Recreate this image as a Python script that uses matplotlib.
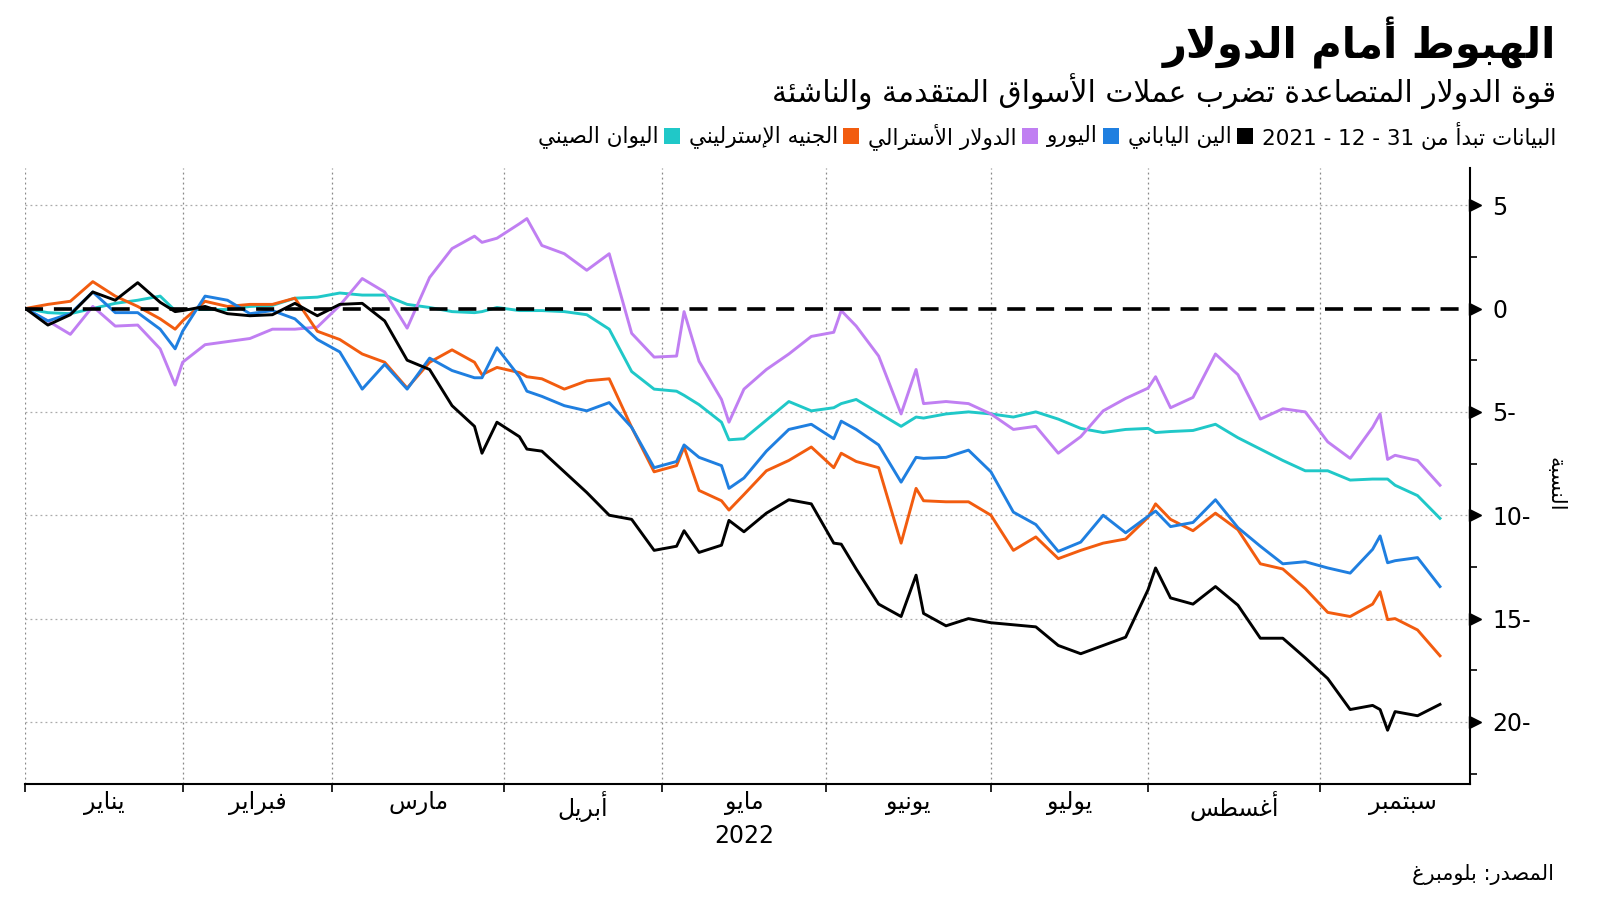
import re
import numpy as np
import pandas as pd
import matplotlib
matplotlib.use("Agg")
import matplotlib.pyplot as plt
import matplotlib.transforms as mtransforms
from matplotlib.patches import Rectangle

plt.rcParams["font.family"] = ["DejaVu Sans"]

# --- data: % change vs USD since 31-12-2021, x = business-day index ---
day_idx = [0, 3, 6, 9, 12, 15, 18, 20, 21, 24, 27, 30,
           33, 36, 39, 42, 45, 48, 51, 54, 57, 60, 61, 63,
           66, 67, 69, 72, 75, 78, 81, 84, 87, 88, 90, 93, 94, 96,
           99, 102, 105, 108, 109, 111, 114, 117, 119, 120, 123, 126, 129,
           132, 135, 138, 141, 144, 147, 150, 151, 153, 156, 159,
           162, 165, 168, 171, 174, 177, 180, 181, 182, 183, 186, 189]

yen = [0, -0.8, -0.3, 0.8, 0.4, 1.25, 0.3, -0.15, -0.1, 0.1, -0.25, -0.35,
       -0.3, 0.25, -0.35, 0.2, 0.25, -0.6, -2.5, -2.95, -4.7, -5.7, -7.0, -5.5,
       -6.2, -6.8, -6.9, -7.9, -8.9, -10.0, -10.2, -11.7, -11.5, -10.75, -11.8, -11.45, -10.25, -10.8,
       -9.9, -9.25, -9.45, -11.35, -11.4, -12.6, -14.3, -14.9, -12.9, -14.75, -15.35, -15.0, -15.2,
       -15.3, -15.4, -16.3, -16.7, -16.3, -15.9, -13.6, -12.55, -14.0, -14.3, -13.45,
       -14.35, -15.95, -15.95, -16.9, -17.9, -19.4, -19.2, -19.4, -20.4, -19.5, -19.7, -19.15]

gbp = [0, 0.2, 0.35, 1.3, 0.6, 0.1, -0.5, -1.0, -0.6, 0.35, 0.1, 0.2,
       0.2, 0.5, -1.1, -1.5, -2.2, -2.6, -3.85, -2.6, -2.0, -2.6, -3.2, -2.85,
       -3.1, -3.3, -3.4, -3.9, -3.5, -3.4, -5.75, -7.9, -7.6, -6.7, -8.8, -9.3, -9.75, -9.0,
       -7.85, -7.35, -6.7, -7.7, -7.0, -7.4, -7.7, -11.35, -8.7, -9.3, -9.35, -9.35, -10.0,
       -11.7, -11.05, -12.1, -11.7, -11.35, -11.15, -10.1, -9.45, -10.2, -10.75, -9.9,
       -10.7, -12.35, -12.6, -13.55, -14.7, -14.9, -14.3, -13.7, -15.05, -15.0, -15.55, -16.8]

eur = [0, -0.6, -0.25, 0.8, -0.2, -0.2, -1.0, -1.95, -1.1, 0.6, 0.4, -0.25,
       -0.1, -0.5, -1.5, -2.1, -3.9, -2.7, -3.9, -2.4, -3.0, -3.35, -3.35, -1.9,
       -3.3, -4.0, -4.25, -4.7, -4.95, -4.55, -5.75, -7.7, -7.4, -6.6, -7.2, -7.6, -8.7, -8.2,
       -6.9, -5.85, -5.6, -6.3, -5.45, -5.85, -6.6, -8.4, -7.2, -7.25, -7.2, -6.85, -7.9,
       -9.85, -10.45, -11.75, -11.3, -10.0, -10.85, -10.05, -9.8, -10.55, -10.35, -9.25,
       -10.6, -11.5, -12.35, -12.25, -12.55, -12.8, -11.65, -11.0, -12.3, -12.2, -12.05, -13.45]

aud = [0, -0.6, -1.25, 0.1, -0.85, -0.8, -1.95, -3.7, -2.6, -1.75, -1.6, -1.45,
       -1.0, -1.0, -0.9, 0.15, 1.45, 0.8, -0.95, 1.5, 2.9, 3.5, 3.2, 3.4,
       4.1, 4.35, 3.05, 2.65, 1.85, 2.65, -1.2, -2.35, -2.3, -0.15, -2.55, -4.4, -5.5, -3.9,
       -2.95, -2.2, -1.35, -1.15, -0.1, -0.85, -2.3, -5.1, -2.95, -4.6, -4.5, -4.6, -5.1,
       -5.85, -5.7, -7.0, -6.2, -4.95, -4.35, -3.85, -3.3, -4.8, -4.3, -2.2,
       -3.2, -5.35, -4.85, -5.0, -6.45, -7.25, -5.75, -5.1, -7.3, -7.1, -7.35, -8.55]

cny = [0, -0.2, -0.25, 0.0, 0.25, 0.4, 0.6, -0.1, -0.05, -0.05, -0.05, 0.1,
       0.15, 0.5, 0.55, 0.75, 0.65, 0.65, 0.2, 0.05, -0.15, -0.2, -0.15, 0.05,
       -0.1, -0.1, -0.1, -0.15, -0.3, -1.0, -3.05, -3.9, -4.0, -4.2, -4.65, -5.5, -6.35, -6.3,
       -5.4, -4.5, -4.95, -4.8, -4.6, -4.4, -5.05, -5.7, -5.25, -5.3, -5.1, -5.0, -5.1,
       -5.25, -5.0, -5.35, -5.8, -6.0, -5.85, -5.8, -6.0, -5.95, -5.9, -5.6,
       -6.25, -6.8, -7.35, -7.85, -7.85, -8.3, -8.25, -8.25, -8.25, -8.55, -9.05, -10.15]

series_names = ["الين الياباني", "اليورو", "الدولار الأسترالي", "الجنيه الإسترليني", "اليوان الصيني"]
series_colors = ["#000000", "#1f7fe0", "#c07ff2", "#f25c0f", "#20c8c8"]
months = ["يناير", "فبراير", "مارس", "أبريل", "مايو", "يونيو", "يوليو", "أغسطس", "سبتمبر"]
y_ticks = [5, 0, -5, -10, -15, -20]


# --- tiny arabic shaping + rtl ordering (matplotlib does not shape) ---
AR_LETTERS = "ءآأؤإئابةتثجحخدذرزسشصضطظعغفقكلمنهوىي"
AR_NFORMS = [1, 2, 2, 2, 2, 4, 2, 4, 2, 4, 4, 4, 4, 4, 2, 2, 2, 2,
             4, 4, 4, 4, 4, 4, 4, 4, 4, 4, 4, 4, 4, 4, 4, 2, 2, 4]
FORMS = {}
code = 0xFE80
for ch, n in zip(AR_LETTERS, AR_NFORMS):
    FORMS[ch] = [chr(code + k) for k in range(n)]
    code += n
LAM_ALEF = {"آ": 0xFEF5, "أ": 0xFEF7, "إ": 0xFEF9, "ا": 0xFEFB}


def shape(text):
    out = []
    prev_joins = False
    i = 0
    while i < len(text):
        c = text[i]
        if c not in FORMS:
            out.append(c)
            prev_joins = False
            i += 1
            continue
        nxt = text[i + 1] if i + 1 < len(text) else ""
        if c == "ل" and nxt in LAM_ALEF:
            out.append(chr(LAM_ALEF[nxt] + (1 if prev_joins else 0)))
            prev_joins = False
            i += 2
            continue
        forms = FORMS[c]
        can_next = len(forms) == 4 and nxt in FORMS and nxt != "ء"
        if len(forms) == 1:
            f = forms[0]
        elif len(forms) == 2:
            f = forms[1] if prev_joins else forms[0]
        elif prev_joins and can_next:
            f = forms[3]
        elif prev_joins:
            f = forms[1]
        elif can_next:
            f = forms[2]
        else:
            f = forms[0]
        out.append(f)
        prev_joins = can_next
        i += 1
    return "".join(out)


def ar(text):
    runs = re.findall(r"[0-9]+|[^0-9]+", shape(text))
    return "".join(r if r[0].isdigit() else r[::-1] for r in reversed(runs))


# month boundaries on a business-day axis starting 31-12-2021
bdays = pd.bdate_range("2021-12-31", "2022-09-30")
month_of = bdays.month + 12 * (bdays.year - 2021)
bounds = [int(np.where(month_of == m)[0][-1]) for m in range(12, 22)]
centers = [(bounds[k] + bounds[k + 1]) / 2 for k in range(9)]

fig = plt.figure(figsize=(16, 9.01), dpi=100)
ax = fig.add_axes([0.0159, 0.1299, 0.9028, 0.6837])

for b in bounds[:-1]:
    ax.axvline(b, color="#888888", lw=0.9, ls=(0, (1.5, 2.5)), zorder=1)
for v in y_ticks:
    if v != 0:
        ax.axhline(v, color="#aaaaaa", lw=0.9, ls=(0, (1.5, 2.5)), zorder=1)

series = [yen, eur, aud, gbp, cny]
for vals, col, z in zip(series, series_colors, [6, 5, 3, 4, 2]):
    ax.plot(day_idx, vals, color=col, lw=2.1, zorder=z)
ax.axhline(0, color="black", lw=2.6, ls=(0, (5, 3)), zorder=7)

ax.set_xlim(0, 193)
ax.set_ylim(-23, 6.8)

ax.spines["top"].set_visible(False)
ax.spines["left"].set_visible(False)
for s in ["right", "bottom"]:
    ax.spines[s].set_linewidth(1.5)

ax.yaxis.tick_right()
ax.set_yticks(y_ticks)
ax.set_yticklabels([str(v) if v >= 0 else f"{-v}-" for v in y_ticks])
ax.set_yticks(np.arange(-22.5, 5, 5), minor=True)
ax.tick_params(axis="y", which="major", length=0, pad=16, labelsize=17)
ax.tick_params(axis="y", which="minor", length=5, width=1.2, direction="out")

tri_tf = ax.get_yaxis_transform() + mtransforms.ScaledTranslation(4 / 72, 0, fig.dpi_scale_trans)
ax.plot([1] * len(y_ticks), y_ticks, ls="none", marker=">", ms=8, color="black",
        transform=tri_tf, clip_on=False, zorder=8)

ax.set_xticks(bounds[:-1])
ax.set_xticklabels([])
ax.set_xticks(centers, minor=True)
ax.set_xticklabels([ar(m) for m in months], minor=True)
ax.tick_params(axis="x", which="major", length=6, width=1.2, direction="out")
ax.tick_params(axis="x", which="minor", length=0, pad=5, labelsize=17)
ax.text(centers[4], -0.085, "2022", transform=ax.get_xaxis_transform(),
        ha="center", va="center", fontsize=17)

# titles
right = 0.9725
fig.text(right, 0.952, ar("الهبوط أمام الدولار"), ha="right", va="center",
         fontsize=30, fontweight="bold")
fig.text(right, 0.898, ar("قوة الدولار المتصاعدة تضرب عملات الأسواق المتقدمة والناشئة"),
         ha="right", va="center", fontsize=21.5)
fig.text(right, 0.462, ar("النسبة"), rotation=270, ha="center", va="center", fontsize=15)
fig.text(0.971, 0.029, ar("المصدر: بلومبرغ"), ha="right", va="center", fontsize=15)

# legend line, built right to left
renderer = fig.canvas.get_renderer()
W, H = fig.bbox.width, fig.bbox.height
leg_y = 0.849
t = fig.text(right, leg_y, ar("البيانات تبدأ من 31 - 12 - 2021"), ha="right", va="center", fontsize=15.5)
x = t.get_window_extent(renderer).x0
for name, col in zip(series_names, series_colors):
    x -= 9
    sq = 16
    fig.add_artist(Rectangle(((x - sq) / W, leg_y - sq / 2 / H), sq / W, sq / H,
                             transform=fig.transFigure, color=col, lw=0))
    x -= sq + 5
    t = fig.text(x / W, leg_y, ar(name), ha="right", va="center", fontsize=15.5)
    x = t.get_window_extent(renderer).x0

fig.savefig("out.png", dpi=100)
